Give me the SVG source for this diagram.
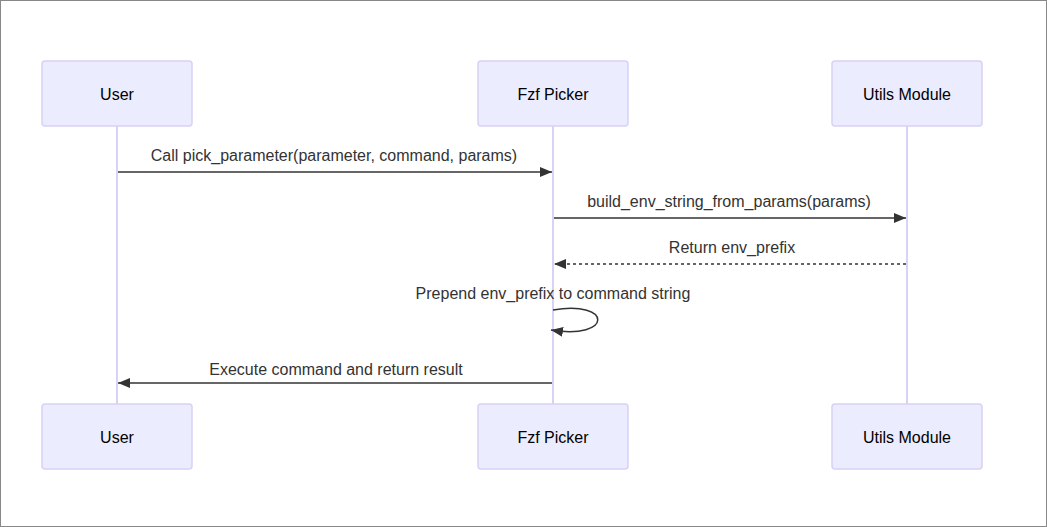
<svg xmlns="http://www.w3.org/2000/svg" width="1047" height="527" viewBox="0 0 1047 527">
<style>
.actor rect{fill:#ECECFF;stroke:#d9d1f6;stroke-width:1.5}
.actor text{font-family:"Liberation Sans",Arial,sans-serif;font-size:16px;fill:#000;text-anchor:middle;dominant-baseline:central}
.life{stroke:#d9d1f6;stroke-width:2}
.msg{stroke:#333;stroke-width:1.5;fill:none}
.dash{stroke-dasharray:3,3}
.lbl{font-family:"Liberation Sans",Arial,sans-serif;font-size:16px;fill:#333;text-anchor:middle}
</style>
<defs>
<marker id="ah" viewBox="0 0 12 12" refX="12" refY="6" markerWidth="12" markerHeight="12" markerUnits="userSpaceOnUse" orient="auto">
<path d="M0,1 L12,6 L0,11 z" fill="#333"/>
</marker>
</defs>
<rect x="0.5" y="0.5" width="1046" height="526" fill="#fff" stroke="#888" stroke-width="1"/>
<g id="lifelines">
<line class="life" x1="117" y1="126" x2="117" y2="404"/>
<line class="life" x1="553" y1="126" x2="553" y2="404"/>
<line class="life" x1="907" y1="126" x2="907" y2="404"/>
</g>
<g id="user-top" class="actor"><rect x="42" y="61" width="150" height="65" rx="3"/><text x="117" y="94">User</text></g>
<g id="fzf-top" class="actor"><rect x="478" y="61" width="150" height="65" rx="3"/><text x="553" y="94">Fzf Picker</text></g>
<g id="utils-top" class="actor"><rect x="832" y="61" width="150" height="65" rx="3"/><text x="907" y="94">Utils Module</text></g>
<g id="user-bottom" class="actor"><rect x="42" y="404" width="150" height="65" rx="3"/><text x="117" y="437">User</text></g>
<g id="fzf-bottom" class="actor"><rect x="478" y="404" width="150" height="65" rx="3"/><text x="553" y="437">Fzf Picker</text></g>
<g id="utils-bottom" class="actor"><rect x="832" y="404" width="150" height="65" rx="3"/><text x="907" y="437">Utils Module</text></g>
<g id="connectors">
<text class="lbl" x="334" y="161">Call pick_parameter(parameter, command, params)</text>
<line class="msg" x1="118" y1="172" x2="552" y2="172" marker-end="url(#ah)"/>
<text class="lbl" x="729" y="207">build_env_string_from_params(params)</text>
<line class="msg" x1="554" y1="218" x2="906" y2="218" marker-end="url(#ah)"/>
<text class="lbl" x="732" y="253">Return env_prefix</text>
<line class="msg dash" x1="906" y1="264" x2="554" y2="264" marker-end="url(#ah)"/>
<text class="lbl" x="553" y="299">Prepend env_prefix to command string</text>
<path class="msg" d="M553,310 C613,300 613,340 551,330" marker-end="url(#ah)"/>
<text class="lbl" x="336" y="375">Execute command and return result</text>
<line class="msg" x1="552" y1="383" x2="118" y2="383" marker-end="url(#ah)"/>
</g>
</svg>
